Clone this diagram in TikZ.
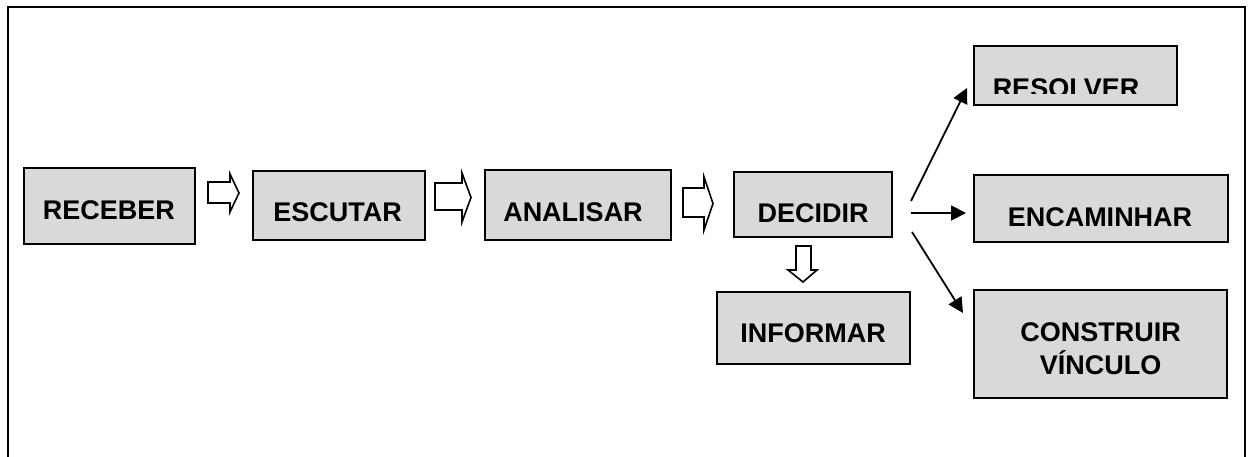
\documentclass[tikz,border=0pt]{standalone}
\usepackage{fontspec}
\setmainfont{Liberation Sans}
\usetikzlibrary{arrows.meta,calc}
\definecolor{boxgray}{RGB}{217,217,217}
\tikzset{
  box/.style={draw=black, fill=boxgray, line width=2pt, inner sep=0pt},
  lbl/.style={inner sep=0pt, font=\fontsize{27}{33}\selectfont\bfseries, align=center},
  blockarrow/.style={draw=black, fill=white, line width=1.6pt, line join=miter},
  conn/.style={line width=1.8pt, -{Triangle[length=15pt,width=15pt]}},
  frame/.style={line width=2pt}
}
\begin{document}
\begin{tikzpicture}[x=1pt,y=-1pt]
\useasboundingbox (0,0) rectangle (1250,457);
% outer frame (open at bottom)
\draw[frame] (8,457) -- (8,7) -- (1245,7) -- (1245,457);

% boxes
\node[box, minimum width=171pt, minimum height=76pt] (rec) at (109.5,206) {};
\node[box, minimum width=172pt, minimum height=69pt] (esc) at (339,205.5) {};
\node[box, minimum width=186pt, minimum height=70pt] (ana) at (578,205) {};
\node[box, minimum width=158pt, minimum height=65pt] (dec) at (813,204.5) {};
\node[box, minimum width=193pt, minimum height=72pt] (inf) at (813.5,328) {};
\node[box, minimum width=203pt, minimum height=59pt] (res) at (1075.5,75.5) {};
\node[box, minimum width=254pt, minimum height=67pt] (enc) at (1101,208.5) {};
\node[box, minimum width=253pt, minimum height=108pt] (con) at (1100.5,344) {};

% labels
\node[lbl] (recT) at (109,210) {RECEBER};
\node[lbl] (escT) at (337.5,212) {ESCUTAR};
\node[lbl] (anaT) at (573,212.5) {ANALISAR};
\node[lbl] (decT) at (813,213) {DECIDIR};
\node[lbl] (infT) at (813,333) {INFORMAR};
\node[lbl] (encT) at (1100,217.5) {ENCAMINHAR};
\node[lbl] (conT) at (1100.5,349) {CONSTRUIR\\VÍNCULO};
\begin{scope}
  \clip (974,46) rectangle (1177,94);
  \node[lbl] (resT) at (1066,88) {RESOLVER};
\end{scope}

% block arrows
\draw[blockarrow] (208,182) -- (230,182) -- (230,174) -- (239,193) -- (230,212) -- (230,203) -- (208,203) -- cycle;
\draw[blockarrow] (435,183) -- (462,183) -- (462,173) -- (471,197.5) -- (462,222) -- (462,210) -- (435,210) -- cycle;
\draw[blockarrow] (683,188) -- (704,188) -- (704,177) -- (713,203.5) -- (704,230) -- (704,217) -- (683,217) -- cycle;
\draw[blockarrow] (796,246) -- (811,246) -- (811,270) -- (817,270) -- (803,282) -- (788,270) -- (796,270) -- cycle;

% line connectors
\coordinate (s1) at (911,201);
\coordinate (s2) at (911,213);
\coordinate (s3) at (912,232);
\coordinate (e1) at (967,88);
\coordinate (e2) at (966,213);
\coordinate (e3) at (963,313);
\draw[conn] (s1) -- (e1);
\draw[conn] (s2) -- (e2);
\draw[conn] (s3) -- (e3);
\end{tikzpicture}
\end{document}
